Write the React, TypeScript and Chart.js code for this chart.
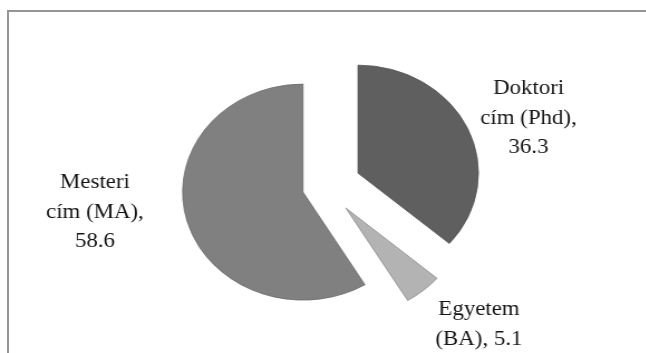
import React, { useEffect, useRef } from "react";
import { Chart, registerables } from "chart.js";

Chart.register(...registerables);

const categories = ["Doktori cím (Phd)", "Egyetem (BA)", "Mesteri cím (MA)"];
const values = [36.3, 5.1, 58.6];
// label text lines (category split over lines, value appended as in the original)
const labelLines = [
  ["Doktori", "cím (Phd),", String(values[0])],
  ["Egyetem", "(BA), " + String(values[1])],
  ["Mesteri", "cím (MA),", String(values[2])],
];
const sliceColors = ["#5f5f5f", "#b3b3b3", "#808080"];
const sliceBorders = ["#555555", "#8c8c8c", "#6c6c6c"];
const explode = [32, 28, 21];
const labelDist = [1.8, 1.806, 1.93];
const labelShiftDeg = [4.1, -4.7, 8.4];

const SCALE_X = 1.115;
const W0 = 579;
const H0 = 353;
const LABEL_FONT = '20.5px "Liberation Serif"';

const explodePlugin = {
  id: "explodeAndLabels",
  beforeDatasetsDraw(chart: any) {
    const ctx = chart.ctx;
    const meta = chart.getDatasetMeta(0);
    meta.data.forEach((arc: any, i: number) => {
      const mid = (arc.startAngle + arc.endAngle) / 2;
      ctx.save();
      ctx.translate(Math.cos(mid) * explode[i], Math.sin(mid) * explode[i]);
      arc.draw(ctx, chart.chartArea);
      ctx.restore();
    });
    return false;
  },
  afterDraw(chart: any) {
    const ctx = chart.ctx;
    const meta = chart.getDatasetMeta(0);
    ctx.save();
    ctx.font = LABEL_FONT;
    ctx.fillStyle = "#141414";
    ctx.textAlign = "center";
    ctx.textBaseline = "middle";
    const lh = 29.5;
    meta.data.forEach((arc: any, i: number) => {
      const mid = (arc.startAngle + arc.endAngle) / 2 + (labelShiftDeg[i] * Math.PI) / 180;
      const r = arc.outerRadius * labelDist[i];
      const cx = arc.x + Math.cos(mid) * r;
      const cy = arc.y + Math.sin(mid) * r;
      const lines = labelLines[i];
      const y0 = cy - ((lines.length - 1) * lh) / 2;
      lines.forEach((t, k) => ctx.fillText(t, cx, y0 + k * lh));
    });
    ctx.restore();
  },
};

export default function App() {
  const ref = useRef<HTMLCanvasElement | null>(null);
  useEffect(() => {
    if (!ref.current) return;
    const chart = new Chart(ref.current, {
      type: "pie",
      data: {
        labels: categories,
        datasets: [
          {
            data: values,
            backgroundColor: sliceColors,
            borderColor: sliceBorders,
            borderWidth: 0.8,
            radius: 108,
          } as any,
        ],
      },
      options: {
        responsive: false,
        animation: false,
        events: [],
        layout: { padding: { left: 30, right: 25, top: 30, bottom: 10 } },
        plugins: {
          legend: { display: false },
          tooltip: { enabled: false },
        },
      },
      plugins: [explodePlugin],
    });
    let alive = true;
    if ((document as any).fonts && (document as any).fonts.load) {
      (document as any).fonts.load(LABEL_FONT).then(() => {
        if (alive) chart.draw();
      });
    }
    return () => {
      alive = false;
      chart.destroy();
    };
  }, []);

  return (
    <>
      <div
        style={{
          position: "absolute",
          left: 7,
          top: 10,
          width: 639,
          height: 343,
          boxSizing: "border-box",
          borderTop: "2px solid #959595",
          borderLeft: "2px solid #959595",
        }}
      />
      <div
        style={{
          position: "absolute",
          left: 0,
          top: 0,
          width: W0,
          height: H0,
          transform: `scaleX(${SCALE_X})`,
          transformOrigin: "0 0",
        }}
      >
        <canvas ref={ref} width={W0} height={H0} />
      </div>
    </>
  );
}
